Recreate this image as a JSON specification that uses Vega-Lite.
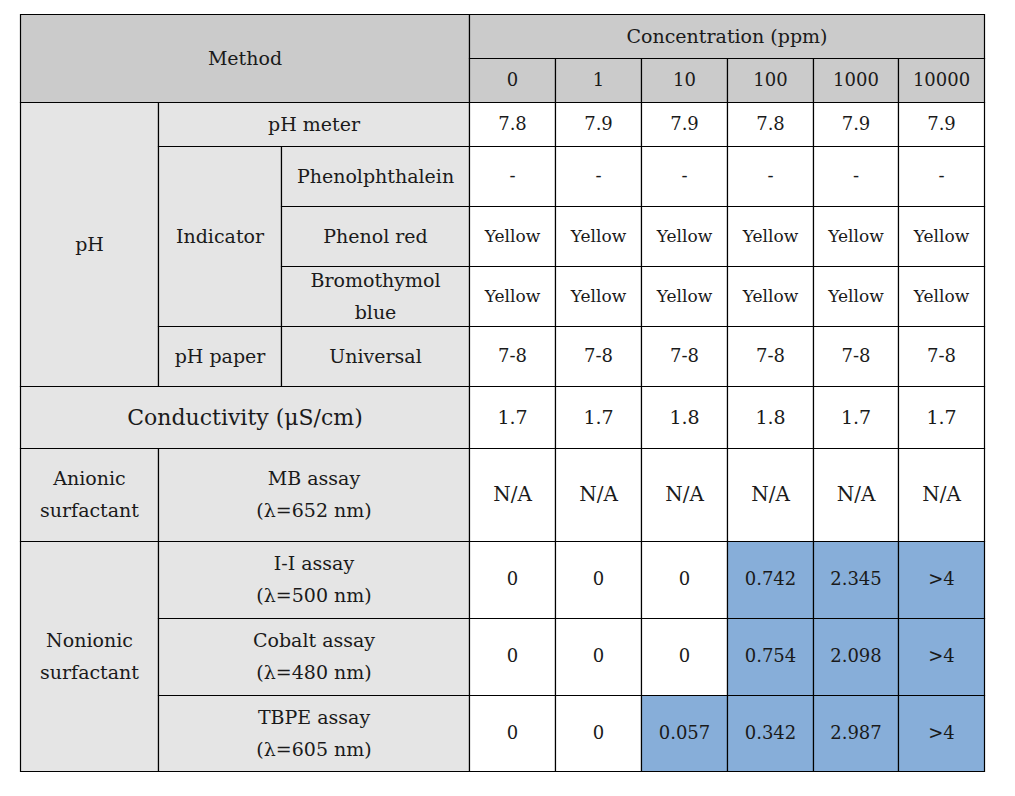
{
  "$schema": "https://vega.github.io/schema/vega-lite/v6.json",
  "width": 1015,
  "height": 796,
  "padding": 0,
  "autosize": {"type": "none"},
  "background": "white",
  "config": {"view": {"stroke": null}},
  "data": {
    "values": [
      {"c0": 0, "c1": 3, "r0": 0, "r1": 2, "t": "Method", "kind": "head"},
      {"c0": 3, "c1": 9, "r0": 0, "r1": 1, "t": "Concentration (ppm)", "kind": "head"},
      {"c0": 3, "c1": 4, "r0": 1, "r1": 2, "t": "0", "kind": "head"},
      {"c0": 4, "c1": 5, "r0": 1, "r1": 2, "t": "1", "kind": "head"},
      {"c0": 5, "c1": 6, "r0": 1, "r1": 2, "t": "10", "kind": "head"},
      {"c0": 6, "c1": 7, "r0": 1, "r1": 2, "t": "100", "kind": "head"},
      {"c0": 7, "c1": 8, "r0": 1, "r1": 2, "t": "1000", "kind": "head"},
      {"c0": 8, "c1": 9, "r0": 1, "r1": 2, "t": "10000", "kind": "head"},

      {"c0": 0, "c1": 1, "r0": 2, "r1": 7, "t": "pH", "kind": "label"},
      {"c0": 1, "c1": 3, "r0": 2, "r1": 3, "t": "pH meter", "kind": "label"},
      {"c0": 1, "c1": 2, "r0": 3, "r1": 6, "t": "Indicator", "kind": "label"},
      {"c0": 2, "c1": 3, "r0": 3, "r1": 4, "t": "Phenolphthalein", "kind": "label"},
      {"c0": 2, "c1": 3, "r0": 4, "r1": 5, "t": "Phenol red", "kind": "label"},
      {"c0": 2, "c1": 3, "r0": 5, "r1": 6, "t": "Bromothymol\nblue", "kind": "label"},
      {"c0": 1, "c1": 2, "r0": 6, "r1": 7, "t": "pH paper", "kind": "label"},
      {"c0": 2, "c1": 3, "r0": 6, "r1": 7, "t": "Universal", "kind": "label"},
      {"c0": 0, "c1": 3, "r0": 7, "r1": 8, "t": "Conductivity (μS/cm)", "kind": "label"},
      {"c0": 0, "c1": 1, "r0": 8, "r1": 9, "t": "Anionic\nsurfactant", "kind": "label"},
      {"c0": 1, "c1": 3, "r0": 8, "r1": 9, "t": "MB assay\n(λ=652 nm)", "kind": "label"},
      {"c0": 0, "c1": 1, "r0": 9, "r1": 12, "t": "Nonionic\nsurfactant", "kind": "label"},
      {"c0": 1, "c1": 3, "r0": 9, "r1": 10, "t": "I-I assay\n(λ=500 nm)", "kind": "label"},
      {"c0": 1, "c1": 3, "r0": 10, "r1": 11, "t": "Cobalt assay\n(λ=480 nm)", "kind": "label"},
      {"c0": 1, "c1": 3, "r0": 11, "r1": 12, "t": "TBPE assay\n(λ=605 nm)", "kind": "label"},

      {"c0": 3, "c1": 4, "r0": 2, "r1": 3, "t": "7.8", "kind": "value"},
      {"c0": 4, "c1": 5, "r0": 2, "r1": 3, "t": "7.9", "kind": "value"},
      {"c0": 5, "c1": 6, "r0": 2, "r1": 3, "t": "7.9", "kind": "value"},
      {"c0": 6, "c1": 7, "r0": 2, "r1": 3, "t": "7.8", "kind": "value"},
      {"c0": 7, "c1": 8, "r0": 2, "r1": 3, "t": "7.9", "kind": "value"},
      {"c0": 8, "c1": 9, "r0": 2, "r1": 3, "t": "7.9", "kind": "value"},

      {"c0": 3, "c1": 4, "r0": 3, "r1": 4, "t": "-", "kind": "value"},
      {"c0": 4, "c1": 5, "r0": 3, "r1": 4, "t": "-", "kind": "value"},
      {"c0": 5, "c1": 6, "r0": 3, "r1": 4, "t": "-", "kind": "value"},
      {"c0": 6, "c1": 7, "r0": 3, "r1": 4, "t": "-", "kind": "value"},
      {"c0": 7, "c1": 8, "r0": 3, "r1": 4, "t": "-", "kind": "value"},
      {"c0": 8, "c1": 9, "r0": 3, "r1": 4, "t": "-", "kind": "value"},

      {"c0": 3, "c1": 4, "r0": 4, "r1": 5, "t": "Yellow", "kind": "value"},
      {"c0": 4, "c1": 5, "r0": 4, "r1": 5, "t": "Yellow", "kind": "value"},
      {"c0": 5, "c1": 6, "r0": 4, "r1": 5, "t": "Yellow", "kind": "value"},
      {"c0": 6, "c1": 7, "r0": 4, "r1": 5, "t": "Yellow", "kind": "value"},
      {"c0": 7, "c1": 8, "r0": 4, "r1": 5, "t": "Yellow", "kind": "value"},
      {"c0": 8, "c1": 9, "r0": 4, "r1": 5, "t": "Yellow", "kind": "value"},

      {"c0": 3, "c1": 4, "r0": 5, "r1": 6, "t": "Yellow", "kind": "value"},
      {"c0": 4, "c1": 5, "r0": 5, "r1": 6, "t": "Yellow", "kind": "value"},
      {"c0": 5, "c1": 6, "r0": 5, "r1": 6, "t": "Yellow", "kind": "value"},
      {"c0": 6, "c1": 7, "r0": 5, "r1": 6, "t": "Yellow", "kind": "value"},
      {"c0": 7, "c1": 8, "r0": 5, "r1": 6, "t": "Yellow", "kind": "value"},
      {"c0": 8, "c1": 9, "r0": 5, "r1": 6, "t": "Yellow", "kind": "value"},

      {"c0": 3, "c1": 4, "r0": 6, "r1": 7, "t": "7-8", "kind": "value"},
      {"c0": 4, "c1": 5, "r0": 6, "r1": 7, "t": "7-8", "kind": "value"},
      {"c0": 5, "c1": 6, "r0": 6, "r1": 7, "t": "7-8", "kind": "value"},
      {"c0": 6, "c1": 7, "r0": 6, "r1": 7, "t": "7-8", "kind": "value"},
      {"c0": 7, "c1": 8, "r0": 6, "r1": 7, "t": "7-8", "kind": "value"},
      {"c0": 8, "c1": 9, "r0": 6, "r1": 7, "t": "7-8", "kind": "value"},

      {"c0": 3, "c1": 4, "r0": 7, "r1": 8, "t": "1.7", "kind": "value"},
      {"c0": 4, "c1": 5, "r0": 7, "r1": 8, "t": "1.7", "kind": "value"},
      {"c0": 5, "c1": 6, "r0": 7, "r1": 8, "t": "1.8", "kind": "value"},
      {"c0": 6, "c1": 7, "r0": 7, "r1": 8, "t": "1.8", "kind": "value"},
      {"c0": 7, "c1": 8, "r0": 7, "r1": 8, "t": "1.7", "kind": "value"},
      {"c0": 8, "c1": 9, "r0": 7, "r1": 8, "t": "1.7", "kind": "value"},

      {"c0": 3, "c1": 4, "r0": 8, "r1": 9, "t": "N/A", "kind": "value"},
      {"c0": 4, "c1": 5, "r0": 8, "r1": 9, "t": "N/A", "kind": "value"},
      {"c0": 5, "c1": 6, "r0": 8, "r1": 9, "t": "N/A", "kind": "value"},
      {"c0": 6, "c1": 7, "r0": 8, "r1": 9, "t": "N/A", "kind": "value"},
      {"c0": 7, "c1": 8, "r0": 8, "r1": 9, "t": "N/A", "kind": "value"},
      {"c0": 8, "c1": 9, "r0": 8, "r1": 9, "t": "N/A", "kind": "value"},

      {"c0": 3, "c1": 4, "r0": 9, "r1": 10, "t": "0", "kind": "value"},
      {"c0": 4, "c1": 5, "r0": 9, "r1": 10, "t": "0", "kind": "value"},
      {"c0": 5, "c1": 6, "r0": 9, "r1": 10, "t": "0", "kind": "value"},
      {"c0": 6, "c1": 7, "r0": 9, "r1": 10, "t": "0.742", "kind": "hl"},
      {"c0": 7, "c1": 8, "r0": 9, "r1": 10, "t": "2.345", "kind": "hl"},
      {"c0": 8, "c1": 9, "r0": 9, "r1": 10, "t": ">4", "kind": "hl"},

      {"c0": 3, "c1": 4, "r0": 10, "r1": 11, "t": "0", "kind": "value"},
      {"c0": 4, "c1": 5, "r0": 10, "r1": 11, "t": "0", "kind": "value"},
      {"c0": 5, "c1": 6, "r0": 10, "r1": 11, "t": "0", "kind": "value"},
      {"c0": 6, "c1": 7, "r0": 10, "r1": 11, "t": "0.754", "kind": "hl"},
      {"c0": 7, "c1": 8, "r0": 10, "r1": 11, "t": "2.098", "kind": "hl"},
      {"c0": 8, "c1": 9, "r0": 10, "r1": 11, "t": ">4", "kind": "hl"},

      {"c0": 3, "c1": 4, "r0": 11, "r1": 12, "t": "0", "kind": "value"},
      {"c0": 4, "c1": 5, "r0": 11, "r1": 12, "t": "0", "kind": "value"},
      {"c0": 5, "c1": 6, "r0": 11, "r1": 12, "t": "0.057", "kind": "hl"},
      {"c0": 6, "c1": 7, "r0": 11, "r1": 12, "t": "0.342", "kind": "hl"},
      {"c0": 7, "c1": 8, "r0": 11, "r1": 12, "t": "2.987", "kind": "hl"},
      {"c0": 8, "c1": 9, "r0": 11, "r1": 12, "t": ">4", "kind": "hl"}
    ]
  },
  "layer": [
    {
      "mark": {"type": "rect", "stroke": "#000000", "strokeWidth": 1.2},
      "encoding": {
        "x": {
          "field": "c0", "type": "quantitative",
          "scale": {"domain": [0, 1, 2, 3, 4, 5, 6, 7, 8, 9], "range": [20.5, 158.5, 281.5, 469.5, 555.5, 641.5, 727.5, 813.5, 898.5, 984.5], "zero": false, "nice": false},
          "axis": null
        },
        "x2": {"field": "c1"},
        "y": {
          "field": "r0", "type": "quantitative",
          "scale": {"domain": [0, 1, 2, 3, 4, 5, 6, 7, 8, 9, 10, 11, 12], "range": [14.5, 58.5, 102.5, 146.5, 206.5, 266.5, 326.5, 386.5, 448.5, 541.5, 618.5, 695.5, 771.5], "zero": false, "nice": false},
          "axis": null
        },
        "y2": {"field": "r1"},
        "fill": {
          "field": "kind", "type": "nominal",
          "scale": {"domain": ["head", "label", "value", "hl"], "range": ["#cbcbcb", "#e5e5e5", "#ffffff", "#87aed9"]},
          "legend": null
        }
      }
    },
    {
      "mark": {"type": "text", "font": "DejaVu Serif", "lineBreak": "\n", "lineHeight": 32, "baseline": "middle", "align": "center", "color": "#1a1a1a"},
      "encoding": {
        "x": {"value": {"expr": "(scale('x', datum.c0) + scale('x', datum.c1)) / 2"}},
        "y": {"value": {"expr": "(scale('y', datum.r0) + scale('y', datum.r1)) / 2 - (length(split(datum.t, '\\n')) - 1) * 16"}},
        "text": {"field": "t"},
        "size": {
          "condition": [
            {"test": "datum.t == 'Yellow'", "value": 17},
            {"test": "datum.r0 == 7 && datum.kind == 'label'", "value": 22},
            {"test": "datum.t == 'N/A'", "value": 20},
            {"test": "datum.r0 == 7", "value": 19},
            {"test": "datum.kind == 'label' || datum.c1 - datum.c0 > 1", "value": 19}
          ],
          "value": 18
        }
      }
    }
  ]
}
